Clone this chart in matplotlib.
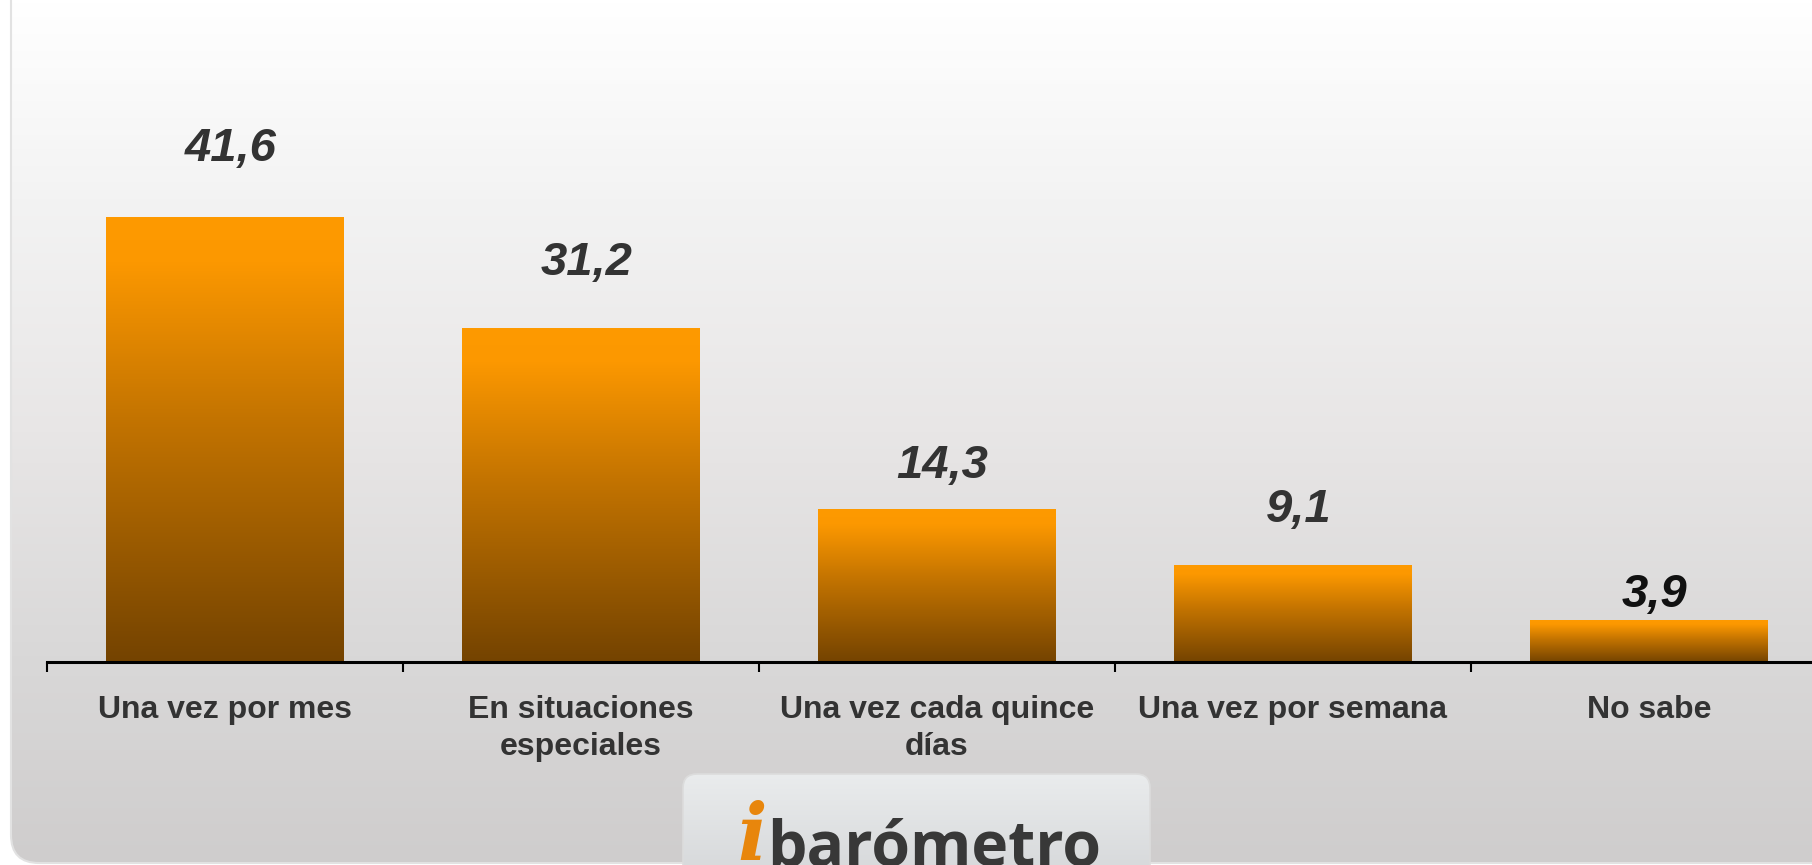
import numpy as np
import matplotlib
matplotlib.use("Agg")
import matplotlib.pyplot as plt
from matplotlib.patches import FancyBboxPatch
from matplotlib.colors import LinearSegmentedColormap

categories = ["Una vez por mes", "En situaciones\nespeciales", "Una vez cada quince\ndías",
              "Una vez por semana", "No sabe"]
values = [41.6, 31.2, 14.3, 9.1, 3.9]
value_labels = ["41,6", "31,2", "14,3", "9,1", "3,9"]
label_colors = ["#333333", "#333333", "#333333", "#333333", "#111111"]
label_offsets_px = [68, 65, 43, 55, 25]

W, H = 1812, 865
DPI = 100
fig = plt.figure(figsize=(W / DPI, H / DPI), dpi=DPI)
fig.patch.set_facecolor("white")

# ---- background panel (pixel coordinates) ----
bg = fig.add_axes([0, 0, 1, 1], zorder=0)
bg.set_xlim(0, W)
bg.set_ylim(H, 0)
bg.axis("off")
panel_cmap = LinearSegmentedColormap.from_list(
    "panel", [(0.0, "#ffffff"), (0.23, "#f3f3f3"), (0.5, "#e8e6e6"),
              (0.76, "#d9d8d8"), (1.0, "#cfcdcd")])
grad = np.linspace(0, 1, 256).reshape(-1, 1)
panel = FancyBboxPatch((11, -40), W + 40, H + 38, boxstyle="round,pad=0,rounding_size=28",
                       transform=bg.transData, facecolor="none", edgecolor="#e2e2e2", lw=1.5)
bg.add_patch(panel)
im = bg.imshow(grad, extent=[0, W + 60, H, 0], cmap=panel_cmap, aspect="auto", zorder=0)
im.set_clip_path(panel)

# logo box
logo_cmap = LinearSegmentedColormap.from_list("logo", ["#eaeced", "#d4d6d8"])
logo_box = FancyBboxPatch((683, 774), 467, 112, boxstyle="round,pad=0,rounding_size=14",
                          transform=bg.transData, facecolor="none", edgecolor="#dcdcdc", lw=1.2,
                          zorder=2)
bg.add_patch(logo_box)
lim = bg.imshow(grad, extent=[683, 1150, 886, 774], cmap=logo_cmap, aspect="auto", zorder=1)
lim.set_clip_path(logo_box)
bg.text(752, 860, "i", fontsize=56, fontstyle="italic", fontweight="bold",
        family="DejaVu Serif", color="#e8860c", ha="center", va="baseline", zorder=3)
bg.text(767, 865, "barómetro", fontsize=45, fontweight="bold", family="Open Sans",
        color="#383838", ha="left", va="baseline", zorder=3)

# ---- main axes ----
px_per_unit = 10.697
ymax = 60
ax_left = 47 / W
ax_width = 1780 / W
ax_bottom = (H - 662) / H
ax_height = (ymax * px_per_unit) / H
ax = fig.add_axes([ax_left, ax_bottom, ax_width, ax_height], zorder=2)
ax.patch.set_visible(False)

x = np.arange(len(categories))
bars = ax.bar(x, values, width=0.666, color="none", edgecolor="none", zorder=2)
bar_cmap = LinearSegmentedColormap.from_list("bar", [(0.0, "#744300"), (0.55, "#c47400"),
                                                     (0.9, "#fc9800"), (1.0, "#fe9a00")])
for b in bars:
    x0, y0 = b.get_x(), b.get_y()
    w, h = b.get_width(), b.get_height()
    gi = ax.imshow(grad, extent=[x0, x0 + w, y0, y0 + h],
                   cmap=bar_cmap, aspect="auto", origin="lower", zorder=2)
    gi.set_clip_path(b)
ax.set_aspect("auto")
ax.set_xlim(-0.5, len(categories) - 0.5)
ax.set_ylim(0, ymax)

for xi, v, lab, c, off in zip(x, values, value_labels, label_colors, label_offsets_px):
    ax.annotate(lab, (xi, v), xytext=(4, off * 72 / DPI), textcoords="offset points",
                ha="center", va="center", fontsize=34, fontweight="bold", fontstyle="italic",
                family="Liberation Sans", color=c)

for s in ["top", "right", "left"]:
    ax.spines[s].set_visible(False)
ax.spines["bottom"].set_linewidth(2.2)
ax.spines["bottom"].set_color("black")
ax.set_yticks([])
ax.set_xticks(np.arange(-0.5, len(categories), 1.0))
ax.set_xticklabels([])
ax.tick_params(axis="x", which="major", direction="out", length=7.5, width=1.5, color="black")
ax.set_xticks(x, minor=True)
ax.set_xticklabels(categories, minor=True, fontsize=23, fontweight="bold",
                   family="Liberation Sans", color="#333333", linespacing=1.3)
ax.tick_params(axis="x", which="minor", length=0, pad=23.5)

fig.savefig("out.png", dpi=DPI)
